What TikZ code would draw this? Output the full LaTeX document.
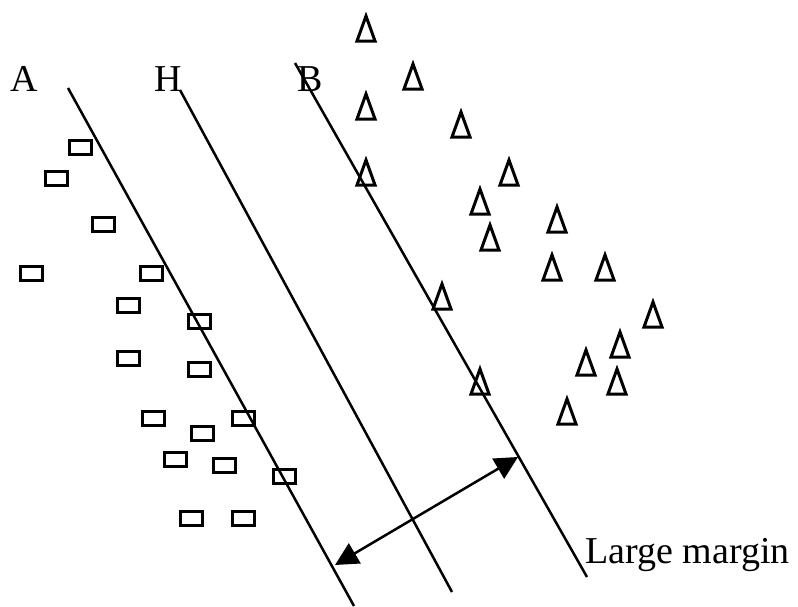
\documentclass[tikz,border=0pt]{standalone}
\usepackage{fontspec}
\setmainfont{Liberation Serif}
\usetikzlibrary{arrows.meta}

\begin{document}
\begin{tikzpicture}[
        x=1pt, y=-1pt,
        line/.style={line width=2.5pt},
        box/.style={rectangle, draw, line width=3pt, minimum width=22pt, minimum height=14pt, inner sep=0pt},
        tri/.style={draw, line width=3pt},
        tag/.style={font=\fontsize{38}{40}\selectfont, inner sep=0pt},
        arrow/.style={{Triangle[length=23pt, width=23pt]}-{Triangle[length=23pt, width=23pt]}, line width=2.5pt}
    ]
        \useasboundingbox (0,0) rectangle (798,606);

        \coordinate (Atop) at (68,88);
        \coordinate (Abot) at (354,606);
        \coordinate (Htop) at (180,90);
        \coordinate (Hbot) at (452,592);
        \coordinate (Btop) at (295,63);
        \coordinate (Bbot) at (587,577);

        \node[tag] (labA) at (24,79) {A};
        \node[tag] (labH) at (168,79) {H};
        \node[tag] (labB) at (310,79) {B};
        \node[tag, anchor=base west] (margin) at (585,563) {Large margin};

        \draw[line] (Atop) -- (Abot);
        \draw[line] (Htop) -- (Hbot);
        \draw[line] (Btop) -- (Bbot);

        \foreach \x/\y [count=\i] in {80/147, 56/178, 103/224, 31/273, 151/273, 128/305, 199/321, 128/358,
                199/369, 153/418, 243/418, 202/433, 175/459, 224/465, 284/476, 191/518, 243/518}
            \node[box] (sq\i) at (\x,\y) {};

        \foreach \x/\y in {366/28, 413/76, 366/106, 461/124, 366/172, 509/172, 480/201, 557/219, 490/237,
                552/267, 605/267, 442/296, 653/314, 620/344, 586/362, 617/381, 480/381, 567/411}
            \draw[tri] ({\x-9},{\y+13}) -- ({\x},{\y-12}) -- ({\x+9},{\y+13}) -- cycle;

        \coordinate (mA) at (335,565);
        \coordinate (mB) at (518,457);
        \draw[arrow] (mA) -- (mB);
    \end{tikzpicture}
\end{document}
